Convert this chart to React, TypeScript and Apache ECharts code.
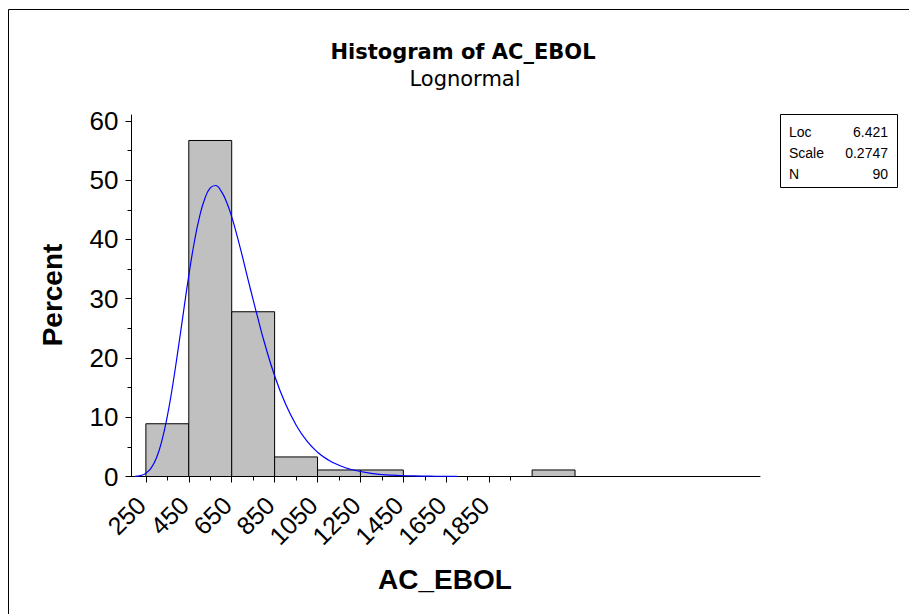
import React, { useEffect, useRef } from "react";
import * as echarts from "echarts";

// Histogram bins (AC_EBOL), percent of N = 90
const binStarts = [250, 450, 650, 850, 1050, 1250, 1450, 1650, 1850, 2050];
const binEnds = [450, 650, 850, 1050, 1250, 1450, 1650, 1850, 2050, 2250];
const binPercents = [8.9, 56.7, 27.8, 3.3, 1.1, 1.1, 0, 0, 0, 1.1];

// Fitted lognormal curve
const curveX = [200, 220, 240, 250, 275, 300, 325, 350, 375, 400, 425, 450, 475, 500, 525, 550, 575, 600, 625, 650, 675, 700, 725, 750, 775, 800, 850, 900, 950, 1000, 1050, 1100, 1150, 1200, 1300, 1400, 1500, 1600, 1700];
const curveY = [0.03, 0.12, 0.33, 0.55, 1.45, 3.2, 6.1, 10.2, 15.4, 21.4, 27.7, 33.9, 39.4, 43.8, 46.9, 48.7, 49.1, 48.2, 46.4, 43.8, 40.6, 37.1, 33.4, 29.8, 26.3, 22.9, 17.0, 12.3, 8.7, 6.0, 4.1, 2.8, 1.9, 1.25, 0.54, 0.23, 0.1, 0.04, 0.02];

const xMajorTicks = [250, 450, 650, 850, 1050, 1250, 1450, 1650, 1850];
const xMinorTicks = [350, 550, 750, 950, 1150, 1350, 1550, 1750, 1950];
const yMajorTicks = [0, 10, 20, 30, 40, 50, 60];
const yMinorTicks = [5, 15, 25, 35, 45, 55];

const statLabels = ["Loc", "Scale", "N"];
const statValues = ["6.421", "0.2747", "90"];

const TICK_FONT = "Liberation Sans";
const BOLD_FONT = "Liberation Sans";

export default function App() {
  const ref = useRef<HTMLDivElement>(null);
  useEffect(() => {
    document.body.style.margin = "0";
    document.body.style.overflow = "hidden";
    if (!ref.current) return;
    const chart = echarts.init(ref.current, null, { renderer: "svg" });
    const X_MIN = 183;
    const X_MAX = 3112;
    const Y_MAX = 61;

    const statTexts: any[] = [];
    statLabels.forEach((l, i) => {
      const y = 131.7 + i * 21.2;
      statTexts.push({
        type: "text",
        x: 789,
        y,
        style: { text: l, fill: "#000", font: `14px "Liberation Sans"`, textAlign: "left", textVerticalAlign: "middle" },
      });
      statTexts.push({
        type: "text",
        x: 888,
        y,
        style: { text: statValues[i], fill: "#000", font: `14px "Liberation Sans"`, textAlign: "right", textVerticalAlign: "middle" },
      });
    });

    chart.setOption({
      animation: false,
      backgroundColor: "#fff",
      grid: { left: 131.5, right: 149, top: 115, bottom: 137.5, containLabel: false },
      xAxis: [
        {
          type: "value",
          min: X_MIN,
          max: X_MAX,
          position: "bottom",
          axisLine: { show: true, onZero: false, lineStyle: { color: "#000", width: 1 } },
          axisTick: { show: true, length: 6, customValues: xMajorTicks, lineStyle: { color: "#000" } },
          axisLabel: {
            customValues: xMajorTicks,
            formatter: (v: number) => String(v),
            rotate: 45,
            margin: 2,
            verticalAlign: "top",
            padding: [0, 19, 0, 0],
            color: "#000",
            fontSize: 25,
            fontFamily: TICK_FONT,
          },
          splitLine: { show: false },
        },
        {
          type: "value",
          min: X_MIN,
          max: X_MAX,
          position: "bottom",
          axisLine: { show: false },
          axisTick: { show: true, length: 4, customValues: xMinorTicks, lineStyle: { color: "#000" } },
          axisLabel: { show: false },
          splitLine: { show: false },
        },
      ],
      yAxis: [
        {
          type: "value",
          min: 0,
          max: Y_MAX,
          position: "left",
          axisLine: { show: true, onZero: false, lineStyle: { color: "#000", width: 1 } },
          axisTick: { show: true, length: 6, customValues: yMajorTicks, lineStyle: { color: "#000" } },
          axisLabel: {
            customValues: yMajorTicks,
            formatter: (v: number) => String(v),
            margin: 13,
            color: "#000",
            fontSize: 26,
            fontFamily: TICK_FONT,
          },
          splitLine: { show: false },
        },
        {
          type: "value",
          min: 0,
          max: Y_MAX,
          position: "left",
          axisLine: { show: false },
          axisTick: { show: true, length: 4, customValues: yMinorTicks, lineStyle: { color: "#000" } },
          axisLabel: { show: false },
          splitLine: { show: false },
        },
      ],
      series: [
        {
          type: "custom",
          xAxisIndex: 0,
          yAxisIndex: 0,
          encode: { x: [0, 1], y: 2 },
          data: binStarts.map((s, i) => [s, binEnds[i], binPercents[i]]),
          renderItem: (params: any, api: any) => {
            const s = api.value(0);
            const e = api.value(1);
            const h = api.value(2);
            if (!(h > 0)) return null;
            const p0 = api.coord([s, h]);
            const p1 = api.coord([e, 0]);
            return {
              type: "rect",
              shape: { x: p0[0], y: p0[1], width: p1[0] - p0[0], height: p1[1] - p0[1] },
              style: { fill: "#c0c0c0", stroke: "#000", lineWidth: 1 },
            };
          },
          z: 2,
        },
        {
          type: "line",
          xAxisIndex: 0,
          yAxisIndex: 0,
          data: curveX.map((x, i) => [x, curveY[i]]),
          showSymbol: false,
          symbol: "none",
          smooth: true,
          lineStyle: { color: "#0000ff", width: 1.2 },
          z: 3,
        },
      ],
      graphic: [
        {
          type: "rect",
          shape: { x: 8.5, y: 9.5, width: 2000, height: 2000 },
          style: { fill: "none", stroke: "#000", lineWidth: 1 },
          silent: true,
        },
        {
          type: "text",
          x: 463,
          y: 52,
          style: { text: "Histogram of AC_EBOL", fill: "#000", font: `bold 21px "DejaVu Sans"`, textAlign: "center", textVerticalAlign: "middle" },
        },
        {
          type: "text",
          x: 465,
          y: 79,
          style: { text: "Lognormal", fill: "#000", font: `21px "DejaVu Sans"`, textAlign: "center", textVerticalAlign: "middle" },
        },
        {
          type: "text",
          x: 52,
          y: 295,
          rotation: Math.PI / 2,
          style: { text: "Percent", fill: "#000", font: `bold 28px "${BOLD_FONT}"`, textAlign: "center", textVerticalAlign: "middle" },
        },
        {
          type: "text",
          x: 445,
          y: 579,
          style: { text: "AC_EBOL", fill: "#000", font: `bold 28px "${BOLD_FONT}"`, textAlign: "center", textVerticalAlign: "middle" },
        },
        {
          type: "rect",
          shape: { x: 780.5, y: 114.5, width: 117, height: 73 },
          style: { fill: "#fff", stroke: "#000", lineWidth: 1 },
        },
        ...statTexts,
      ],
    });
    return () => chart.dispose();
  }, []);
  return <div ref={ref} style={{ width: 909, height: 614 }} />;
}
